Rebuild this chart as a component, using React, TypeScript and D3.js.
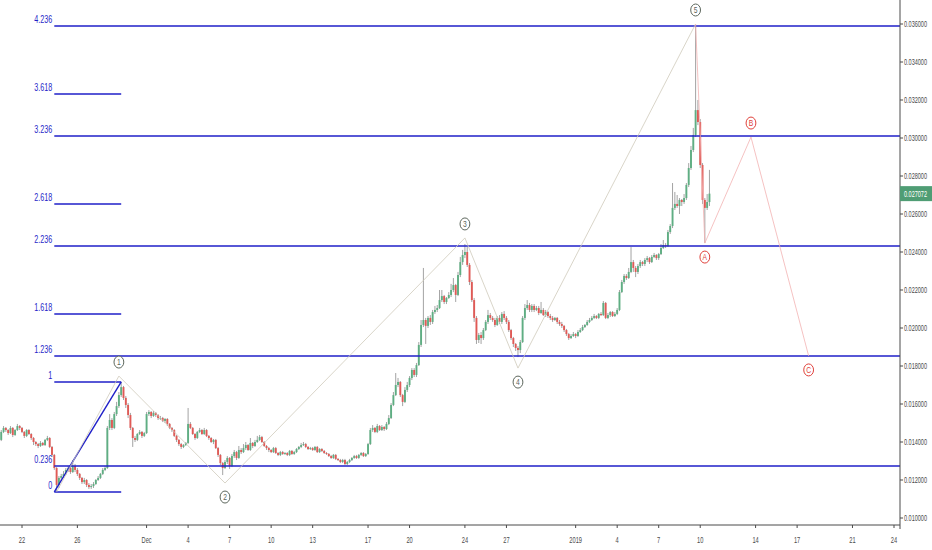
import React from 'react';
import * as d3 from 'd3';

// 4h candles, first bar Nov 20 2018 08:00 UTC; open = previous close
const firstOpen = 0.01432;
const barStart = Date.UTC(2018, 10, 20, 8);
const barHours = 4;

const closes = [
  .01411, .01453, .01474, .01463,
  .01447, .01474, .01437, .01463, .01484, .01474,
  .01453, .01432, .01463, .01442, .01421, .01400,
  .01389, .01379, .01395, .01384, .01411, .01421,
  .01374, .01332, .01263, .01174, .01211, .01221,
  .01232, .01253, .01263, .01242, .01274, .01253,
  .01232, .01211, .01189, .01200, .01174, .01163,
  .01168, .01179, .01200, .01211, .01232, .01253,
  .01263, .01474, .01516, .01474, .01547, .01589,
  .01647, .01689, .01632, .01595, .01542, .01474,
  .01421, .01411, .01442, .01453, .01432, .01447,
  .01547, .01558, .01537, .01553, .01542, .01526,
  .01526, .01511, .01521, .01495, .01474, .01463,
  .01432, .01411, .01389, .01374, .01384, .01395,
  .01495, .01474, .01442, .01421, .01453, .01463,
  .01442, .01463, .01432, .01421, .01400, .01411,
  .01368, .01332, .01289, .01263, .01295, .01316,
  .01274, .01326, .01347, .01316, .01358, .01347,
  .01368, .01384, .01358, .01395, .01379, .01400,
  .01411, .01426, .01400, .01379, .01368, .01358,
  .01347, .01368, .01342, .01332, .01347, .01337,
  .01342, .01332, .01353, .01337, .01347, .01363,
  .01374, .01384, .01389, .01374, .01363, .01368,
  .01358, .01374, .01347, .01363, .01353, .01342,
  .01337, .01326, .01316, .01332, .01311, .01305,
  .01295, .01305, .01284, .01295, .01305, .01316,
  .01326, .01316, .01332, .01342, .01326, .01337,
  .01389, .01463, .01474, .01453, .01484, .01463,
  .01479, .01468, .01495, .01526, .01595, .01647,
  .01700, .01716, .01647, .01611, .01674, .01700,
  .01737, .01779, .01753, .01805, .01911, .02016,
  .02042, .02011, .02053, .02032, .02084, .02095,
  .02105, .02147, .02168, .02137, .02158, .02174,
  .02200, .02226, .02174, .02279, .02347, .02384,
  .02400, .02332, .02242, .02147, .02053, .01937,
  .01963, .01947, .01989, .02032, .02068, .02053,
  .02042, .02016, .02053, .02032, .02074, .02053,
  .02032, .01989, .01947, .01916, .01895, .01884,
  .01926, .02053, .02105, .02121, .02095, .02116,
  .02095, .02105, .02079, .02095, .02068, .02084,
  .02063, .02053, .02042, .02053, .02032, .02021,
  .02011, .01989, .01968, .01947, .01958, .01968,
  .01958, .01979, .01989, .02005, .02016, .02032,
  .02042, .02053, .02063, .02053, .02074, .02068,
  .02132, .02053, .02068, .02084, .02063, .02074,
  .02095, .02189, .02242, .02274, .02263, .02295,
  .02347, .02316, .02295, .02326, .02347, .02337,
  .02358, .02368, .02347, .02374, .02384, .02368,
  .02389, .02421, .02437, .02432, .02505, .02537,
  .02632, .02653, .02642, .02674, .02663, .02684,
  .02753, .02842, .02937, .03016, .03147, .03084,
  .02858, .02674, .02632, .02663, .027072,
];

const highs = [
  .01442, .01463, .01484, .01479,
  .01468, .01484, .01479, .01468, .01495, .01489,
  .01479, .01458, .01468, .01468, .01447, .01426,
  .01405, .01395, .01405, .01400, .01416, .01432,
  .01426, .01379, .01337, .01268, .01221, .01232,
  .01247, .01263, .01274, .01274, .01305, .01284,
  .01263, .01237, .01216, .01211, .01205, .01184,
  .01179, .01189, .01205, .01221, .01237, .01263,
  .01274, .01484, .01547, .01526, .01558, .01611,
  .01663, .01716, .01695, .01642, .01605, .01553,
  .01479, .01432, .01447, .01463, .01458, .01453,
  .01558, .01568, .01563, .01563, .01558, .01547,
  .01537, .01532, .01526, .01526, .01500, .01479,
  .01468, .01437, .01416, .01395, .01389, .01400,
  .01579, .01505, .01479, .01447, .01458, .01474,
  .01468, .01474, .01468, .01437, .01426, .01416,
  .01416, .01374, .01337, .01295, .01305, .01326,
  .01321, .01337, .01358, .01353, .01379, .01368,
  .01389, .01400, .01389, .01421, .01400, .01411,
  .01432, .01437, .01432, .01405, .01384, .01374,
  .01363, .01374, .01374, .01347, .01353, .01353,
  .01347, .01347, .01358, .01358, .01353, .01368,
  .01379, .01395, .01400, .01395, .01379, .01374,
  .01374, .01379, .01379, .01368, .01368, .01358,
  .01347, .01342, .01332, .01337, .01337, .01316,
  .01311, .01311, .01311, .01300, .01311, .01321,
  .01332, .01332, .01337, .01347, .01347, .01342,
  .01395, .01474, .01489, .01479, .01495, .01489,
  .01489, .01484, .01505, .01542, .01605, .01663,
  .01763, .01737, .01721, .01653, .01689, .01716,
  .01747, .01789, .01789, .01816, .01926, .02042,
  .02316, .02053, .02063, .02068, .02095, .02116,
  .02121, .02200, .02200, .02174, .02163, .02189,
  .02232, .02263, .02232, .02295, .02374, .02411,
  .02442, .02426, .02342, .02253, .02158, .02063,
  .01974, .01979, .02000, .02042, .02095, .02079,
  .02063, .02053, .02063, .02068, .02084, .02089,
  .02063, .02042, .01995, .01953, .01921, .01905,
  .01937, .02063, .02126, .02147, .02132, .02126,
  .02126, .02116, .02116, .02137, .02105, .02095,
  .02089, .02074, .02063, .02058, .02058, .02042,
  .02032, .02016, .01995, .01974, .01968, .01979,
  .01974, .01989, .02000, .02016, .02021, .02042,
  .02053, .02063, .02074, .02068, .02079, .02084,
  .02142, .02137, .02079, .02089, .02089, .02084,
  .02105, .02200, .02253, .02284, .02284, .02316,
  .02426, .02358, .02326, .02337, .02358, .02353,
  .02368, .02379, .02374, .02384, .02395, .02389,
  .02395, .02442, .02463, .02447, .02516, .02547,
  .02763, .02716, .02700, .02684, .02679, .02705,
  .02763, .02868, .02958, .03053, .03589, .03200,
  .03100, .02868, .02684, .02705, .02832,
];

const lows = [
  .01400, .01405, .01447, .01453,
  .01437, .01442, .01426, .01432, .01458, .01463,
  .01447, .01421, .01426, .01437, .01411, .01384,
  .01379, .01368, .01374, .01379, .01379, .01405,
  .01368, .01321, .01253, .01137, .01158, .01195,
  .01211, .01226, .01242, .01232, .01237, .01242,
  .01221, .01200, .01179, .01179, .01163, .01153,
  .01153, .01158, .01174, .01195, .01205, .01226,
  .01247, .01258, .01463, .01463, .01468, .01537,
  .01579, .01637, .01621, .01579, .01526, .01463,
  .01374, .01400, .01405, .01437, .01421, .01426,
  .01442, .01537, .01526, .01532, .01532, .01516,
  .01516, .01505, .01500, .01484, .01468, .01453,
  .01426, .01400, .01379, .01363, .01368, .01379,
  .01389, .01468, .01437, .01411, .01416, .01447,
  .01437, .01437, .01426, .01411, .01395, .01389,
  .01363, .01321, .01279, .01226, .01258, .01284,
  .01258, .01268, .01316, .01305, .01311, .01337,
  .01342, .01358, .01353, .01353, .01368, .01374,
  .01395, .01405, .01395, .01374, .01358, .01347,
  .01342, .01342, .01337, .01326, .01326, .01332,
  .01332, .01326, .01326, .01332, .01332, .01342,
  .01358, .01368, .01379, .01368, .01358, .01358,
  .01353, .01353, .01342, .01342, .01347, .01337,
  .01332, .01321, .01311, .01311, .01305, .01300,
  .01289, .01289, .01279, .01279, .01289, .01300,
  .01311, .01311, .01311, .01326, .01321, .01321,
  .01332, .01384, .01453, .01447, .01447, .01458,
  .01458, .01458, .01463, .01489, .01521, .01589,
  .01642, .01689, .01637, .01589, .01605, .01663,
  .01689, .01726, .01742, .01742, .01800, .01900,
  .02005, .01916, .02000, .02016, .02021, .02074,
  .02084, .02100, .02137, .02126, .02126, .02153,
  .02163, .02189, .02137, .02168, .02268, .02332,
  .02368, .02321, .02226, .02137, .02032, .01916,
  .01921, .01916, .01937, .01984, .02021, .02042,
  .02032, .02005, .02011, .02021, .02021, .02042,
  .02021, .01979, .01937, .01900, .01879, .01847,
  .01868, .01921, .02042, .02095, .02084, .02084,
  .02084, .02089, .02068, .02074, .02063, .02058,
  .02053, .02042, .02032, .02037, .02021, .02011,
  .02000, .01979, .01958, .01937, .01942, .01953,
  .01947, .01953, .01974, .01984, .02000, .02011,
  .02026, .02037, .02047, .02047, .02047, .02063,
  .02063, .02047, .02047, .02058, .02058, .02058,
  .02068, .02089, .02184, .02232, .02253, .02258,
  .02289, .02295, .02268, .02284, .02316, .02326,
  .02326, .02347, .02337, .02342, .02368, .02358,
  .02358, .02384, .02416, .02421, .02426, .02495,
  .02526, .02621, .02632, .02600, .02642, .02653,
  .02674, .02742, .02832, .02926, .03005, .03068,
  .02842, .02653, .02447, .02621, .02642,
];

const priceTicks = [0.010, 0.012, 0.014, 0.016, 0.018, 0.020, 0.022, 0.024, 0.026, 0.028, 0.030, 0.032, 0.034, 0.036];
const timeTicks = [
  Date.UTC(2018, 10, 22), Date.UTC(2018, 10, 26), Date.UTC(2018, 11, 1), Date.UTC(2018, 11, 4),
  Date.UTC(2018, 11, 7), Date.UTC(2018, 11, 10), Date.UTC(2018, 11, 13), Date.UTC(2018, 11, 17),
  Date.UTC(2018, 11, 20), Date.UTC(2018, 11, 24), Date.UTC(2018, 11, 27), Date.UTC(2019, 0, 1),
  Date.UTC(2019, 0, 4), Date.UTC(2019, 0, 7), Date.UTC(2019, 0, 10), Date.UTC(2019, 0, 14),
  Date.UTC(2019, 0, 17), Date.UTC(2019, 0, 21), Date.UTC(2019, 0, 24),
];

// fib extension anchors and ratios
const fibStart = { t: Date.UTC(2018, 10, 24, 8), p: 0.01137 };
const fibEnd = { t: Date.UTC(2018, 10, 29, 4), p: 0.01716 };
const fibRatios = [0, 0.236, 1, 1.236, 1.618, 2.236, 2.618, 3.236, 3.618, 4.236];
const fibLabels = ['0', '0.236', '1', '1.236', '1.618', '2.236', '2.618', '3.236', '3.618', '4.236'];
const fibExtended = [false, true, false, true, false, true, false, true, false, true];

// elliott impulse 1-5
const impulseTimes = [
  Date.UTC(2018, 10, 24, 12), Date.UTC(2018, 10, 29, 0), Date.UTC(2018, 11, 6, 16),
  Date.UTC(2018, 11, 24, 0), Date.UTC(2018, 11, 27, 20), Date.UTC(2019, 0, 9, 16),
];
const impulsePrices = [0.01137, 0.01747, 0.01184, 0.02474, 0.01789, 0.036];
const impulseLabels = ['', '1', '2', '3', '4', '5'];

// correction A-B-C
const correctionTimes = [Date.UTC(2019, 0, 9, 16), Date.UTC(2019, 0, 10, 8), Date.UTC(2019, 0, 13, 16), Date.UTC(2019, 0, 17, 20)];
const correctionPrices = [0.036, 0.02447, 0.03005, 0.01853];
const correctionLabels = ['', 'A', 'B', 'C'];

const lastPrice = 0.027072;

const FONT = 'Liberation Sans, Arial, sans-serif';
const PLOT_R = 900;
const PLOT_B = 525;

const x = d3.scaleUtc()
  .domain([new Date(Date.UTC(2018, 10, 22)), new Date(Date.UTC(2019, 0, 24))])
  .range([22, 894]);
const y = d3.scaleLinear().domain([0.010, 0.036]).range([518, 24]);

const tickLabel = (d: Date): string => {
  if (d.getUTCDate() === 1) {
    return d.getUTCMonth() === 0 ? String(d.getUTCFullYear()) : d3.utcFormat('%b')(d);
  }
  return String(d.getUTCDate());
};

const SText = ({ x0, y0, sx, size, fill, anchor, children }: any) => (
  <text
    transform={`translate(${x0},${y0}) scale(${sx},1)`}
    fontSize={size}
    fill={fill}
    fontFamily={FONT}
    textAnchor={anchor}
  >
    {children}
  </text>
);

const WaveMark = ({ cx, cy, label, color }: any) => (
  <g>
    <ellipse cx={cx} cy={cy} rx={4.9} ry={6} fill="white" stroke={color} strokeWidth={1} />
    <SText x0={cx} y0={cy + 3.2} sx={0.75} size={9} fill={color} anchor="middle">{label}</SText>
  </g>
);

export default function App() {
  const candles = closes.map((c, i) => {
    const o = i === 0 ? firstOpen : closes[i - 1];
    return { t: new Date(barStart + i * barHours * 3600e3), o, c, h: highs[i], l: lows[i] };
  });

  const line = d3.line<[number, number]>().x((d) => x(new Date(d[0]))).y((d) => y(d[1]));
  const impulsePts = impulseTimes.map((t, i) => [t, impulsePrices[i]] as [number, number]);
  const corrPts = correctionTimes.map((t, i) => [t, correctionPrices[i]] as [number, number]);

  const xf0 = x(new Date(fibStart.t));
  const xf1 = x(new Date(fibEnd.t));
  const fibPrice = (r: number) => fibStart.p + r * (fibEnd.p - fibStart.p);

  const grey = '#4a4a4a';
  const fibBlue = '#1f1fc8';

  return (
    <div style={{ position: 'absolute', left: 0, top: 0 }}>
      <svg width={932} height={550} style={{ display: 'block', background: '#fff' }}>
        <defs>
          <clipPath id="plot">
            <rect x={0} y={0} width={PLOT_R} height={PLOT_B} />
          </clipPath>
        </defs>

        <g clipPath="url(#plot)">
          {candles.map((d, i) => {
            const cx = x(d.t);
            const up = d.c >= d.o;
            const top = y(Math.max(d.o, d.c));
            const bot = y(Math.min(d.o, d.c));
            return (
              <g key={i}>
                <line x1={cx} x2={cx} y1={y(d.h)} y2={y(d.l)} stroke="#8c8c8c" strokeWidth={0.8} />
                <rect
                  x={cx - 0.95}
                  y={top}
                  width={1.9}
                  height={Math.max(0.7, bot - top)}
                  fill={up ? '#5fae83' : '#e05a56'}
                />
              </g>
            );
          })}

          {/* fib extension */}
          <line x1={xf0} y1={y(fibStart.p)} x2={xf1} y2={y(fibEnd.p)} stroke={fibBlue} strokeWidth={1.4} />
          {fibRatios.map((r, i) => {
            const py = y(fibPrice(r));
            return (
              <line key={i} x1={xf0} x2={fibExtended[i] ? PLOT_R : xf1} y1={py} y2={py} stroke={fibBlue} strokeWidth={1.5} />
            );
          })}

          <path d={line(impulsePts) || ''} fill="none" stroke="#cfcabb" strokeWidth={0.8} />
          <path d={line(corrPts) || ''} fill="none" stroke="#f3b3b3" strokeWidth={0.8} />
        </g>

        {fibRatios.map((r, i) => (
          <SText key={i} x0={xf0 - 2} y0={y(fibPrice(r)) - 3} sx={0.72} size={10} fill={fibBlue} anchor="end">
            {fibLabels[i]}
          </SText>
        ))}

        {impulsePts.map((p, i) =>
          impulseLabels[i] ? (
            <WaveMark
              key={i}
              cx={x(new Date(p[0]))}
              cy={y(p[1]) + (i % 2 === 1 ? -14 : 14)}
              label={impulseLabels[i]}
              color="#5c665c"
            />
          ) : null
        )}
        {corrPts.map((p, i) =>
          correctionLabels[i] ? (
            <WaveMark
              key={i}
              cx={x(new Date(p[0]))}
              cy={y(p[1]) + (i === 2 ? -14 : 14)}
              label={correctionLabels[i]}
              color="#e0403a"
            />
          ) : null
        )}

        {/* axes */}
        <line x1={0} x2={PLOT_R} y1={PLOT_B} y2={PLOT_B} stroke={grey} strokeWidth={1} />
        <line x1={PLOT_R} x2={PLOT_R} y1={0} y2={PLOT_B + 4} stroke={grey} strokeWidth={1} />
        {timeTicks.map((t, i) => {
          const tx = x(new Date(t));
          return (
            <g key={i}>
              <line x1={tx} x2={tx} y1={PLOT_B} y2={PLOT_B + 3} stroke={grey} />
              <SText x0={tx} y0={543} sx={0.6} size={9.5} fill={grey} anchor="middle">
                {tickLabel(new Date(t))}
              </SText>
            </g>
          );
        })}
        {priceTicks.map((p, i) => (
          <g key={i}>
            <line x1={PLOT_R} x2={PLOT_R + 3} y1={y(p)} y2={y(p)} stroke={grey} />
            <SText x0={904} y0={y(p) + 3} sx={0.65} size={8.5} fill={grey} anchor="start">
              {p.toFixed(6)}
            </SText>
          </g>
        ))}

        <rect x={PLOT_R} y={y(lastPrice) - 7.5} width={32} height={15} fill="#4f9d74" />
        <SText x0={904} y0={y(lastPrice) + 3} sx={0.65} size={8.5} fill="#ffffff" anchor="start">
          {lastPrice.toFixed(6)}
        </SText>
      </svg>
    </div>
  );
}
